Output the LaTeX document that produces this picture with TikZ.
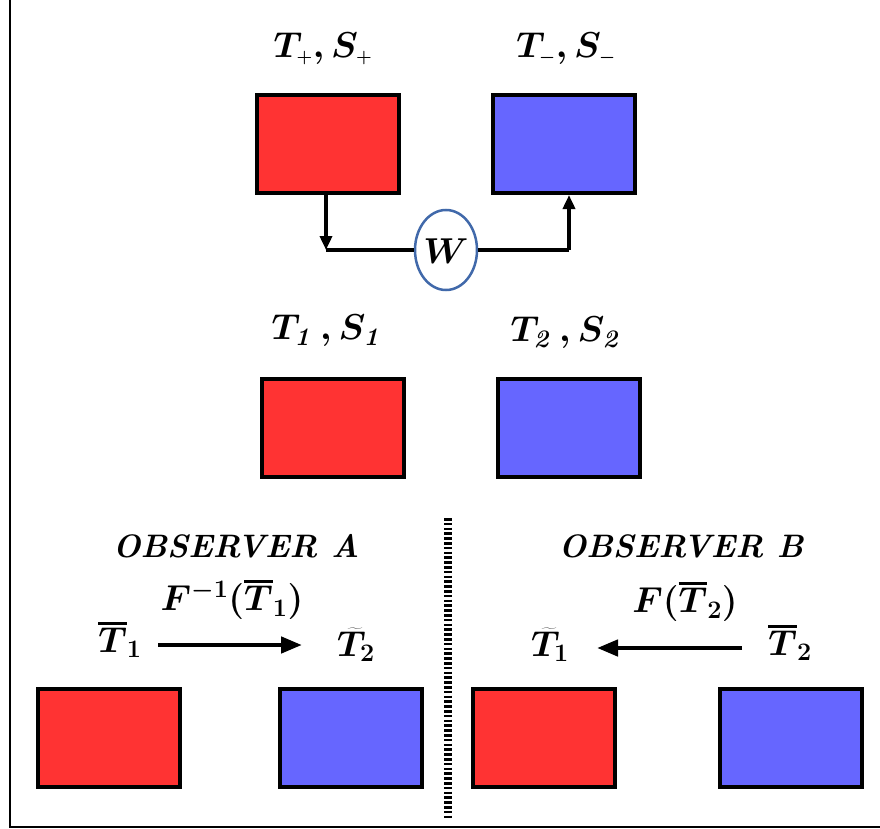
\RequirePackage{fix-cm}
\documentclass[tikz,border=0pt]{standalone}
\usetikzlibrary{arrows.meta,shapes.geometric}
\definecolor{boxred}{RGB}{255,51,51}
\definecolor{boxblue}{RGB}{102,102,255}
\definecolor{wblue}{RGB}{65,105,170}
\newcommand{\myover}[1]{\vbox{\hrule height 2.8pt\kern 3pt\hbox{$#1$}}}
\tikzset{
  redbox/.style={draw=black, line width=4pt, fill=boxred, minimum width=142pt, minimum height=98pt, inner sep=0pt},
  bluebox/.style={draw=black, line width=4pt, fill=boxblue, minimum width=142pt, minimum height=98pt, inner sep=0pt},
  lbl/.style={font=\fontsize{36}{42}\selectfont\bfseries\boldmath, inner sep=0pt},
  smallarrow/.style={line width=4pt, -{Triangle[length=14pt,width=12pt]}},
  bigarrow/.style={line width=4.5pt, -{Triangle[length=21pt,width=16pt]}},
}
\begin{document}
\begin{tikzpicture}[x=1pt,y=-1pt]
\useasboundingbox (0,0) rectangle (880,829);
% frame
\draw[line width=2pt] (10,0) -- (10,827) -- (880,827);
% top
\node[redbox] (r0) at (328,144) {};
\node[bluebox] (b0) at (563.5,144) {};
\node[lbl] (l0) at (323,49) {$T_{\scriptscriptstyle +}, S_{\scriptscriptstyle +}$};
\node[lbl] (l1) at (566,49) {$T_{\scriptscriptstyle -}, S_{\scriptscriptstyle -}$};
\node[draw=wblue, line width=2.5pt, ellipse, minimum width=62pt, minimum height=80pt, inner sep=0pt] (W) at (446,250) {};
\node[lbl] (Wl) at (446,251) {$W$};
\coordinate (c1) at (326,250);
\coordinate (c2) at (569,250);
\draw[smallarrow] (r0.south -| c1) -- (c1);
\draw[line width=4pt] (c1) -- (W.west);
\draw[line width=4pt] (W.east) -- (c2);
\draw[smallarrow] (c2) -- (b0.south -| c2);
% middle
\node[redbox] (r1) at (332.5,427.5) {};
\node[bluebox] (b1) at (568.5,427.5) {};
\node[lbl] (l2) at (327,331) {$T_{\mathit{1}}\,, S_{\mathit{1}}$};
\node[lbl] (l3) at (566,333) {$T_{\mathit{2}}\,, S_{\mathit{2}}$};
% bottom
\node[lbl, font=\fontsize{32.5}{38}\selectfont\bfseries\itshape] (oa) at (236,546) {OBSERVER A};
\node[lbl, font=\fontsize{32.5}{38}\selectfont\bfseries\itshape] (ob) at (681,546) {OBSERVER B};
\node[lbl] (fa) at (232,600) {$F^{-1}\bigl(\myover{T}_1\bigr)$};
\node[lbl] (fb) at (685,602) {$F\bigl(\myover{T}_2\bigr)$};
\node[lbl] (tb1) at (120,640) {$\myover{T}_1$};
\node[lbl] (tt2) at (356,645) {$\widetilde{T}_2$};
\node[lbl] (tt1) at (550,645) {$\widetilde{T}_1$};
\node[lbl] (tb2) at (790,643) {$\myover{T}_2$};
\coordinate (a1s) at (158,645);
\coordinate (a1e) at (302,645);
\coordinate (a2s) at (742,648);
\coordinate (a2e) at (597,648);
\draw[bigarrow] (a1s) -- (a1e);
\draw[bigarrow] (a2s) -- (a2e);
\draw[line width=8pt, dash pattern=on 2.6pt off 2.2pt] (448,518) -- (448,818);
\node[redbox] (r2) at (108.5,738) {};
\node[bluebox] (b2) at (351,738) {};
\node[redbox] (r3) at (544,738) {};
\node[bluebox] (b3) at (790.5,738) {};
\end{tikzpicture}
\end{document}
